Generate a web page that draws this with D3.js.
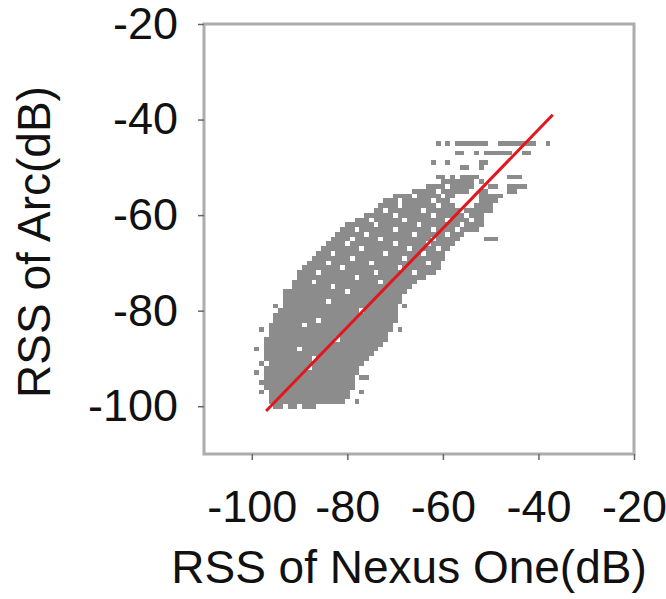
<!DOCTYPE html>
<html>
<head>
<meta charset="utf-8">
<script src="https://cdn.jsdelivr.net/npm/d3@7"></script>
<style>
body { margin: 0; background: #fff; }
text { font-family: "Liberation Sans", Arial, sans-serif; fill: #111; }
</style>
</head>
<body>
<div id="chart"></div>
<script>
(function(){
// tick labels
var xTicks = [-100, -80, -60, -40, -20];
var yTicks = [-100, -80, -60, -40, -20];

// red reference line (RSS of Nexus One, RSS of Arc)
var fitLine = [[-97, -101], [-37, -39]];

// measured points: for each Arc RSS row, the Nexus One RSS runs that are covered
var rows = [
 [-100, [[-95,-94],[-92,-91],[-89,-87]]],
 [-99, [[-96,-81],[-78,-78]]],
 [-98, [[-96,-80]]],
 [-97, [[-98,-98],[-96,-80],[-77,-77]]],
 [-96, [[-97,-79]]],
 [-95, [[-98,-98],[-97,-79]]],
 [-94, [[-97,-79],[-77,-76]]],
 [-93, [[-99,-99],[-97,-78]]],
 [-92, [[-97,-89],[-87,-78]]],
 [-91, [[-98,-98],[-96,-77]]],
 [-90, [[-97,-88],[-86,-76]]],
 [-89, [[-97,-75]]],
 [-88, [[-99,-99],[-97,-91],[-89,-74]]],
 [-87, [[-97,-73]]],
 [-86, [[-97,-83],[-81,-72]]],
 [-85, [[-96,-72]]],
 [-84, [[-98,-98],[-96,-71],[-69,-69]]],
 [-83, [[-96,-90],[-88,-71]]],
 [-82, [[-95,-87],[-85,-70]]],
 [-81, [[-95,-70]]],
 [-80, [[-94,-78],[-76,-70]]],
 [-79, [[-95,-95],[-93,-70],[-68,-68]]],
 [-78, [[-93,-85],[-83,-69]]],
 [-77, [[-93,-69]]],
 [-76, [[-93,-93],[-92,-81],[-79,-68]]],
 [-75, [[-91,-84],[-82,-67]]],
 [-74, [[-91,-88],[-86,-74],[-72,-66]]],
 [-73, [[-90,-79],[-77,-64]]],
 [-72, [[-90,-87],[-85,-75],[-73,-67],[-65,-62]]],
 [-71, [[-89,-82],[-80,-70],[-68,-61]]],
 [-70, [[-88,-85],[-83,-76],[-74,-64],[-62,-61]]],
 [-69, [[-87,-80],[-78,-69],[-67,-60]]],
 [-68, [[-86,-84],[-82,-73],[-71,-65],[-63,-60]]],
 [-67, [[-85,-78],[-76,-68],[-66,-62],[-60,-59]]],
 [-66, [[-84,-81],[-79,-71],[-69,-64],[-62,-58]]],
 [-65, [[-83,-80],[-78,-74],[-72,-63],[-61,-57],[-51,-49]]],
 [-64, [[-82,-77],[-75,-67],[-65,-60],[-58,-56]]],
 [-63, [[-81,-79],[-77,-71],[-69,-63],[-61,-58],[-56,-53]]],
 [-62, [[-80,-75],[-73,-66],[-64,-57],[-55,-52]]],
 [-61, [[-78,-76],[-74,-69],[-67,-60],[-58,-55],[-53,-52]]],
 [-60, [[-76,-71],[-69,-63],[-61,-56],[-54,-52]]],
 [-59, [[-74,-73],[-71,-65],[-63,-57],[-55,-50]]],
 [-58, [[-73,-70],[-68,-62],[-60,-58],[-53,-50]]],
 [-57, [[-72,-70],[-68,-63],[-61,-59],[-52,-49]]],
 [-56, [[-70,-67],[-65,-61],[-59,-58],[-52,-48]]],
 [-55, [[-66,-62],[-60,-55],[-52,-51],[-46,-45]]],
 [-54, [[-63,-60],[-58,-54],[-50,-49],[-46,-43]]],
 [-53, [[-60,-54],[-52,-52]]],
 [-52, [[-61,-60],[-58,-58],[-56,-53],[-46,-44]]],
 [-50, [[-56,-55],[-52,-52]]],
 [-49, [[-62,-62],[-59,-59],[-52,-51]]],
 [-47, [[-57,-56],[-53,-53],[-51,-48],[-47,-46],[-43,-42]]],
 [-45, [[-61,-61],[-59,-59],[-57,-51],[-48,-45],[-44,-41],[-38,-38]]]
];

var W = 666, H = 599;
var left = 204, right = 634, top = 24, bottom = 454;

var svg = d3.select("#chart")
	.append("svg")
	.attr("width", W)
	.attr("height", H);

var x = d3.scaleLinear().domain([-110, -20]).range([left, right]);
var y = d3.scaleLinear().domain([-110, -20]).range([bottom, top]);

// flatten rows into runs
var runs = [];
rows.forEach(function(r){
	r[1].forEach(function(s){ runs.push({arc: r[0], from: s[0], to: s[1]}); });
});

svg.append("g")
	.attr("shape-rendering", "crispEdges")
	.selectAll("rect")
	.data(runs)
	.enter().append("rect")
	.attr("x", function(d){ return x(d.from - 0.5); })
	.attr("width", function(d){ return x(d.to + 0.5) - x(d.from - 0.5); })
	.attr("y", function(d){ return y(d.arc + 0.5); })
	.attr("height", function(d){ return y(d.arc - 0.5) - y(d.arc + 0.5); })
	.attr("fill", "#8c8c8c");

svg.append("path")
	.datum(fitLine)
	.attr("d", d3.line().x(function(d){ return x(d[0]); }).y(function(d){ return y(d[1]); }))
	.attr("stroke", "#e3161e")
	.attr("stroke-width", 3)
	.attr("fill", "none");

// frame
svg.append("rect")
	.attr("x", left).attr("y", top)
	.attr("width", right - left).attr("height", bottom - top)
	.attr("fill", "none")
	.attr("stroke", "#acacac")
	.attr("stroke-width", 3);

var fmt = function(d){ return String(d); };
var xAxis = svg.append("g")
	.attr("transform", "translate(0," + bottom + ")")
	.call(d3.axisBottom(x).tickValues(xTicks).tickFormat(fmt).tickSize(6).tickPadding(30));
var yAxis = svg.append("g")
	.attr("transform", "translate(" + left + ",0)")
	.call(d3.axisLeft(y).tickValues(yTicks).tickFormat(fmt).tickSize(6).tickPadding(20));

[xAxis, yAxis].forEach(function(g){
	g.select(".domain").remove();
	g.selectAll(".tick line").attr("stroke", "#666").attr("stroke-width", 1.5);
	g.selectAll(".tick text")
		.style("font-family", "'Liberation Sans', Arial, sans-serif")
		.style("font-size", "45px")
		.attr("fill", "#111");
});

svg.append("text")
	.attr("x", 409).attr("y", 583)
	.attr("text-anchor", "middle")
	.style("font-size", "46px")
	.text("RSS of Nexus One(dB)");

svg.append("text")
	.attr("transform", "translate(50,242) rotate(-90)")
	.attr("text-anchor", "middle")
	.style("font-size", "46px")
	.text("RSS of Arc(dB)");
})();
</script>
</body>
</html>
